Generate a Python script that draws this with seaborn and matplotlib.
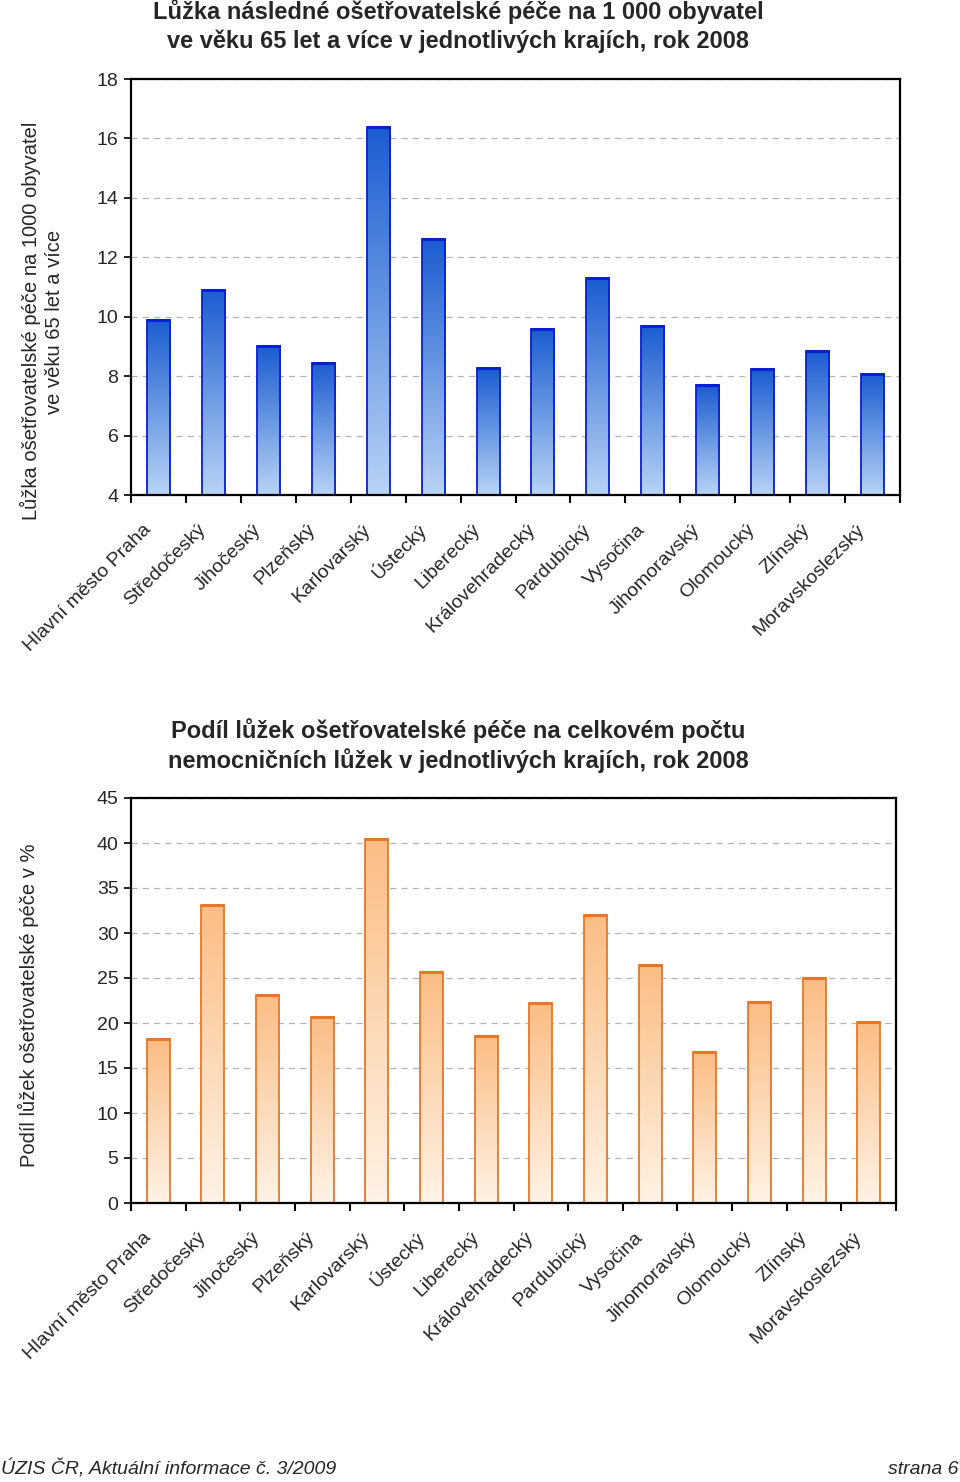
import numpy as np
import pandas as pd
import matplotlib
matplotlib.use("Agg")
import matplotlib.pyplot as plt
import matplotlib.transforms as mtransforms
import seaborn as sns
from matplotlib.colors import LinearSegmentedColormap

regions = ["Hlavní město Praha", "Středočeský", "Jihočeský", "Plzeňský", "Karlovarský",
           "Ústecký", "Liberecký", "Královehradecký", "Pardubický", "Vysočina",
           "Jihomoravský", "Olomoucký", "Zlínský", "Moravskoslezský"]
beds_per_1000 = [9.9, 10.9, 9.0, 8.45, 16.4, 12.6, 8.26, 9.6, 11.3, 9.7, 7.7, 8.24, 8.86, 8.07]
share_pct = [18.2, 33.1, 23.15, 20.7, 40.4, 25.7, 18.55, 22.2, 31.95, 26.45, 16.75, 22.3, 24.95, 20.1]

title1 = ["Lůžka následné ošetřovatelské péče na 1 000 obyvatel",
          "ve věku 65 let a více v jednotlivých krajích, rok 2008"]
title2 = ["Podíl lůžek ošetřovatelské péče na celkovém počtu",
          "nemocničních lůžek v jednotlivých krajích, rok 2008"]
ylab1 = ["Lůžka ošetřovatelské péče na 1000 obyvatel", "ve věku 65 let a více"]
ylab2 = "Podíl lůžek ošetřovatelské péče v %"
footer_left = "ÚZIS ČR, Aktuální informace č. 3/2009"
footer_right = "strana 6"

sns.set_theme(style="white")
plt.rcParams["font.family"] = ["Liberation Sans", "DejaVu Sans"]

W, H = 960, 1482
fig = plt.figure(figsize=(W / 100, H / 100), dpi=100)

df = pd.DataFrame({"region": regions, "beds": beds_per_1000, "share": share_pct})


def px_axes(l, t, r, b):
    return fig.add_axes([l / W, 1 - b / H, (r - l) / W, (b - t) / H])


def style_axes(ax, ylim, yticks, edge, c_top, c_bot):
    cmap = LinearSegmentedColormap.from_list("g", [c_bot, c_top])
    ax.set_ylim(*ylim)
    ax.set_xlim(-0.5, len(regions) - 0.5)
    grad = np.linspace(1, 0, 256).reshape(-1, 1)
    for p in ax.patches:
        x0 = p.get_x()
        w = p.get_width()
        top = p.get_y() + p.get_height()
        y0 = max(p.get_y(), ylim[0])
        im = ax.imshow(grad, cmap=cmap, extent=[x0, x0 + w, y0, top], aspect="auto",
                       origin="upper", zorder=1.5, interpolation="bilinear")
        im.set_clip_path(p)
        p.set_facecolor("none")
        p.set_edgecolor(edge)
        p.set_linewidth(1.3)
        p.set_zorder(2)
        ax.plot([x0, x0 + w], [top, top], color=edge, lw=2.2, zorder=2.1,
                solid_capstyle="butt")
    ax.set_ylim(*ylim)
    ax.set_xlim(-0.5, len(regions) - 0.5)
    ax.set_yticks(yticks)
    ax.set_yticklabels([str(v) for v in yticks], fontsize=14)
    ax.set_xticks(range(len(regions)))
    ax.set_xticklabels([])
    base = mtransforms.blended_transform_factory(ax.transData, ax.transAxes)
    off = mtransforms.ScaledTranslation(-10 / 100, -32 / 100, fig.dpi_scale_trans)
    for i, name in enumerate(regions):
        ax.text(i, 0, name, transform=base + off, rotation=45, ha="right", va="center",
                rotation_mode="anchor", fontsize=14, clip_on=False)
    ax.set_xticks(np.arange(-0.5, len(regions), 1.0), minor=True)
    ax.tick_params(axis="x", which="major", length=0)
    ax.tick_params(axis="x", which="minor", length=6, width=1.5, direction="out",
                   color="black", bottom=True)
    ax.tick_params(axis="y", length=5, width=1.2, direction="out", color="black",
                   left=True, pad=4)
    ax.set_xlabel("")
    ax.set_ylabel("")
    ax.set_axisbelow(True)
    ax.yaxis.grid(True, color="#b4b4b4", linestyle=(0, (5, 4)), linewidth=0.9)
    ax.xaxis.grid(False)
    for s in ax.spines.values():
        s.set_color("black")
        s.set_linewidth(1.6)
        s.set_visible(True)


ax1 = px_axes(131, 79, 900, 495)
sns.barplot(data=df, x="region", y="beds", ax=ax1, width=0.42, color="#3070d8")
style_axes(ax1, (4, 18), list(range(4, 19, 2)), "#0a1ed2", "#1a5cd0", "#b8d4f6")

ax2 = px_axes(131, 798, 896, 1203)
sns.barplot(data=df, x="region", y="share", ax=ax2, width=0.42, color="#fcc088")
style_axes(ax2, (0, 45), list(range(0, 46, 5)), "#e8762a", "#fbbd84", "#fff3e6")

cx = 458 / W
for txt, y in zip(title1, [12, 41]):
    fig.text(cx, 1 - y / H, txt, ha="center", va="center", fontsize=17, fontweight="bold")
for txt, y in zip(title2, [731, 761]):
    fig.text(cx, 1 - y / H, txt, ha="center", va="center", fontsize=17, fontweight="bold")

fig.text(30 / W, 1 - 321 / H, ylab1[0], rotation=90, ha="center", va="center", fontsize=14.5)
fig.text(55 / W, 1 - 322 / H, ylab1[1], rotation=90, ha="center", va="center", fontsize=14.5)
fig.text(28 / W, 1 - 1005 / H, ylab2, rotation=90, ha="center", va="center", fontsize=14.5)

ffam = ["Liberation Sans Narrow", "Liberation Sans", "DejaVu Sans"]
fig.text(1 / W, 1 - 1469 / H, footer_left, ha="left", va="center", fontsize=14,
         style="italic", family=ffam)
fig.text(958 / W, 1 - 1469 / H, footer_right, ha="right", va="center", fontsize=14,
         style="italic", family=ffam)

fig.savefig("out.png", dpi=100, facecolor="white")
